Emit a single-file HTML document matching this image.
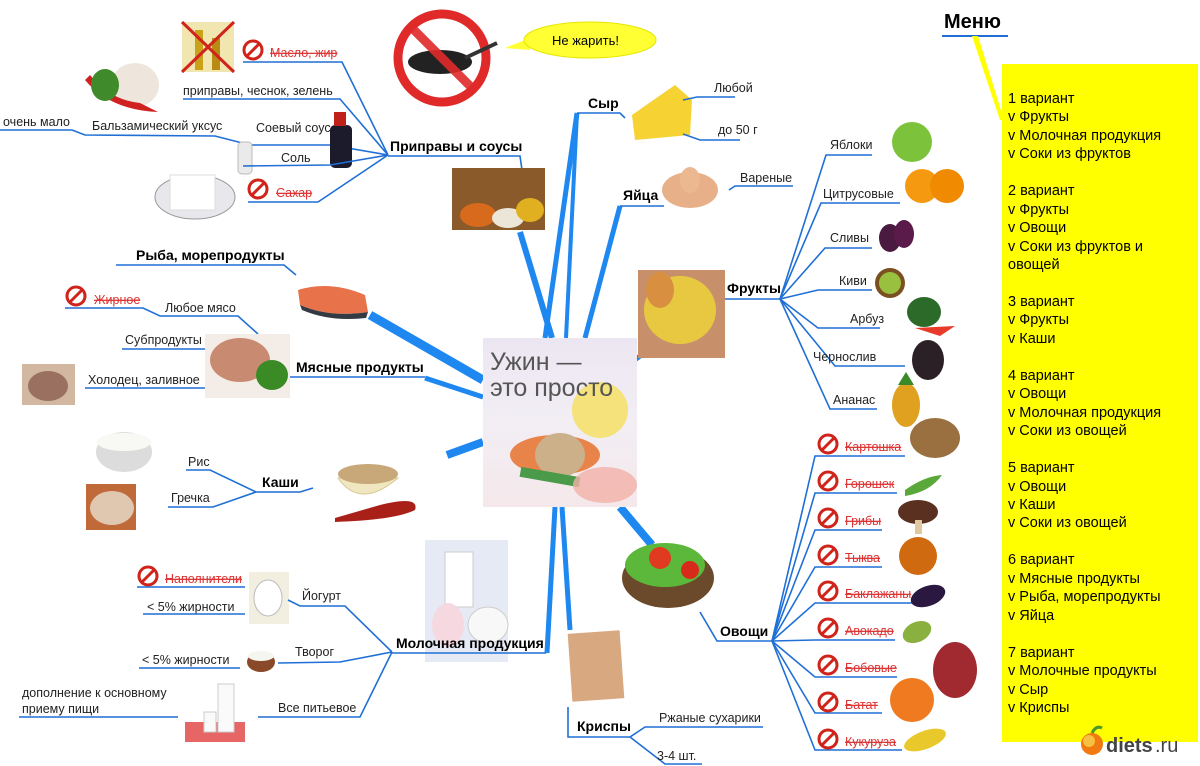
<!DOCTYPE html>
<html><head><meta charset="utf-8"><style>
html,body{margin:0;padding:0;background:#fff;width:1200px;height:766px;overflow:hidden}
svg{display:block;font-family:"Liberation Sans","DejaVu Sans",sans-serif}
.t{font-size:12.5px;fill:#222}
.b{font-size:14px;font-weight:bold;fill:#000}
.r{font-size:12.5px;fill:#d33;text-decoration:line-through}
.ln{stroke:#1f6fd6;stroke-width:1.6;fill:none}
.tk{stroke:#1e88f0;fill:none;stroke-linecap:butt}
#menu{position:absolute;left:1002px;top:64px;width:196px;height:678px;background:#ffff00}
#mt{position:absolute;left:1008px;top:90px;font:14.5px/18.45px "Liberation Sans",sans-serif;color:#000;white-space:pre}
</style></head><body>
<svg width="1200" height="766" viewBox="0 0 1200 766" style="position:absolute;left:0;top:0">
<defs>
<g id="no"><circle r="9" fill="none" stroke="#d0231a" stroke-width="3"/><line x1="-6" y1="6" x2="6" y2="-6" stroke="#d0231a" stroke-width="3"/></g>
</defs>
<g class="tk">
<line x1="577" y1="113" x2="545" y2="338" stroke-width="5"/>
<line x1="577" y1="113" x2="566" y2="338" stroke-width="4"/>
<line x1="520" y1="232" x2="552" y2="338" stroke-width="6"/>
<line x1="620" y1="206" x2="585" y2="338" stroke-width="5"/>
<line x1="640" y1="356" x2="632" y2="362" stroke-width="5"/>
<line x1="370" y1="315" x2="483" y2="380" stroke-width="9"/>
<line x1="425" y1="378" x2="483" y2="397" stroke-width="5"/>
<line x1="447" y1="455" x2="483" y2="442" stroke-width="8"/>
<line x1="555" y1="507" x2="547" y2="653" stroke-width="5"/>
<line x1="562" y1="507" x2="570" y2="630" stroke-width="5"/>
<line x1="620" y1="507" x2="652" y2="545" stroke-width="8"/>
</g>
<circle cx="442" cy="58" r="44" fill="#fff" stroke="#e02a2a" stroke-width="9"/>
<ellipse cx="440" cy="62" rx="32" ry="12" fill="#222"/>
<line x1="465" y1="58" x2="497" y2="43" stroke="#333" stroke-width="4"/>
<line x1="411" y1="27" x2="473" y2="89" stroke="#e02a2a" stroke-width="9" opacity=".9"/>
<path d="M505,48 L530,38 L530,50 Z" fill="#ffff33"/>
<ellipse cx="590" cy="40" rx="66" ry="18" fill="#ffff33" stroke="#e6e600"/>
<text x="552" y="45" class="t" style="font-size:13px;fill:#000">Не жарить!</text>
<rect x="182" y="22" width="52" height="50" fill="#f2e6b0"/><rect x="195" y="30" width="8" height="40" fill="#c9a21a"/><rect x="212" y="38" width="8" height="32" fill="#b88c12"/>
<line x1="182" y1="22" x2="234" y2="72" stroke="#d0231a" stroke-width="3"/><line x1="234" y1="22" x2="182" y2="72" stroke="#d0231a" stroke-width="3"/>
<ellipse cx="135" cy="85" rx="24" ry="22" fill="#eee6dc"/><path d="M85,80 Q110,110 158,112 L140,103 Q110,100 90,75Z" fill="#d02020"/><ellipse cx="105" cy="85" rx="14" ry="16" fill="#3f8a2a"/>
<use href="#no" x="253" y="50"/><text x="270" y="57" class="r">Масло, жир</text>
<path class="ln" d="M243,62 L342,62 L388,155"/>
<text x="183" y="95" class="t">приправы, чеснок, зелень</text><path class="ln" d="M183,99 L340,99 L388,155"/>
<text x="3" y="126" class="t">очень мало</text><path class="ln" d="M0,130 L72,130 L85,135 L215,136 L250,145 L330,145 L388,155"/>
<text x="92" y="130" class="t">Бальзамический уксус</text>
<text x="256" y="132" class="t">Соевый соус</text>
<rect x="330" y="125" width="22" height="43" rx="5" fill="#1b1b2b"/><rect x="334" y="112" width="12" height="14" fill="#c0201a"/>
<rect x="238" y="142" width="14" height="32" rx="4" fill="#eaeaea" stroke="#bbb"/>
<text x="281" y="162" class="t">Соль</text><path class="ln" d="M243,166 L330,165 L388,155"/>
<ellipse cx="195" cy="197" rx="40" ry="22" fill="#e8e8ec" stroke="#999"/><rect x="170" y="175" width="45" height="35" fill="#fff" stroke="#ddd"/>
<use href="#no" x="258" y="189"/><text x="276" y="197" class="r">Сахар</text>
<path class="ln" d="M248,202 L318,202 L388,155"/>
<text x="390" y="151" class="b">Приправы и соусы</text><path class="ln" d="M388,156 L520,156 L522,170"/>
<rect x="452" y="168" width="93" height="62" fill="#8a5a2a"/><ellipse cx="478" cy="215" rx="18" ry="12" fill="#d86a1e"/><ellipse cx="508" cy="218" rx="16" ry="10" fill="#ece6d8"/><ellipse cx="530" cy="210" rx="14" ry="12" fill="#e0b020"/>
<text x="136" y="260" class="b">Рыба, морепродукты</text><path class="ln" d="M116,265 L284,265 L296,275"/>
<path d="M298,290 Q330,280 365,295 L368,312 Q330,318 300,305Z" fill="#e8724a"/><path d="M300,305 Q330,318 368,312 L366,318 Q330,322 302,310Z" fill="#333a44"/>
<use href="#no" x="76" y="296"/><text x="94" y="304" class="r">Жирное</text>
<path class="ln" d="M65,308 L143,308 L160,316 L238,316 L258,334"/><text x="165" y="312" class="t">Любое мясо</text>
<text x="125" y="344" class="t">Субпродукты</text><path class="ln" d="M122,349 L205,349"/>
<rect x="205" y="334" width="85" height="64" fill="#f4ece6"/><ellipse cx="240" cy="360" rx="30" ry="22" fill="#c98a72"/><ellipse cx="272" cy="375" rx="16" ry="15" fill="#3a8a26"/>
<rect x="22" y="364" width="53" height="41" fill="#d2b8a0"/><ellipse cx="48" cy="386" rx="20" ry="15" fill="#9a7060"/>
<text x="88" y="384" class="t">Холодец, заливное</text><path class="ln" d="M85,388 L205,388"/>
<text x="296" y="372" class="b">Мясные продукты</text><path class="ln" d="M290,377 L425,377"/>
<ellipse cx="124" cy="452" rx="28" ry="20" fill="#dcdcdc"/><ellipse cx="124" cy="442" rx="27" ry="9" fill="#f8f8f4"/>
<rect x="86" y="484" width="50" height="46" fill="#c06a3a"/><ellipse cx="112" cy="508" rx="22" ry="17" fill="#e0c8b0"/>
<text x="188" y="466" class="t">Рис</text><path class="ln" d="M186,470 L210,470 L256,492"/>
<text x="171" y="502" class="t">Гречка</text><path class="ln" d="M168,507 L213,507 L256,492"/>
<text x="262" y="487" class="b">Каши</text><path class="ln" d="M256,492 L300,492 L313,488"/>
<path d="M338,478 Q360,510 398,478Z" fill="#f0e6c0" stroke="#d8c890"/><ellipse cx="368" cy="474" rx="30" ry="10" fill="#c8a878"/>
<path d="M335,518 L380,505 Q420,495 415,510 Q395,520 335,522Z" fill="#a82018"/>
<rect x="425" y="540" width="83" height="122" fill="#e6eaf4"/><rect x="445" y="552" width="28" height="55" fill="#fff" stroke="#ccc"/><ellipse cx="448" cy="625" rx="16" ry="22" fill="#f6d8e0"/><ellipse cx="488" cy="625" rx="20" ry="18" fill="#f8f8f8" stroke="#ccc"/>
<use href="#no" x="148" y="576"/><text x="165" y="583" class="r">Наполнители</text><path class="ln" d="M137,587 L245,587"/>
<rect x="249" y="572" width="40" height="52" fill="#f2efe0"/><ellipse cx="268" cy="598" rx="14" ry="18" fill="#fff" stroke="#bbb"/>
<text x="147" y="611" class="t">&lt; 5% жирности</text><path class="ln" d="M143,614 L245,614"/>
<path class="ln" d="M288,600 L300,606 L345,606 L392,652"/><text x="302" y="600" class="t">Йогурт</text>
<text x="142" y="664" class="t">&lt; 5% жирности</text><path class="ln" d="M139,668 L240,668"/>
<ellipse cx="261" cy="662" rx="14" ry="10" fill="#8a4a2a"/><ellipse cx="261" cy="656" rx="13" ry="5" fill="#f6f6f0"/>
<text x="295" y="656" class="t">Творог</text><path class="ln" d="M278,663 L340,662 L392,652"/>
<text x="22" y="697" class="t">дополнение к основному</text><text x="22" y="713" class="t">приему пищи</text><path class="ln" d="M19,717 L178,717"/>
<rect x="185" y="722" width="60" height="20" fill="#e04040" opacity=".8"/><rect x="218" y="684" width="16" height="48" fill="#fafafa" stroke="#ccc"/><rect x="204" y="712" width="12" height="20" fill="#fafafa" stroke="#ccc"/>
<text x="278" y="712" class="t">Все питьевое</text><path class="ln" d="M258,717 L360,717 L392,652"/>
<text x="396" y="648" class="b">Молочная продукция</text><path class="ln" d="M392,653 L546,653"/>
<rect x="570" y="632" width="52" height="68" fill="#d8a880" transform="rotate(-4 596 666)"/>
<text x="577" y="731" class="b">Криспы</text><path class="ln" d="M568,707 L568,737 L630,737 L645,727 L763,727"/>
<text x="659" y="722" class="t">Ржаные сухарики</text>
<path class="ln" d="M630,737 L665,764 L702,764"/><text x="657" y="760" class="t">3-4 шт.</text>
<text x="588" y="108" class="b">Сыр</text><path class="ln" d="M577,113 L620,113 L625,118"/>
<path d="M632,115 L675,85 L692,100 L690,135 L635,140Z" fill="#f6d232"/>
<text x="714" y="92" class="t">Любой</text><path class="ln" d="M683,100 L697,97 L735,97"/>
<text x="718" y="134" class="t">до 50 г</text><path class="ln" d="M683,134 L700,140 L740,140"/>
<text x="623" y="200" class="b">Яйца</text><path class="ln" d="M620,206 L664,206"/>
<ellipse cx="690" cy="190" rx="28" ry="18" fill="#e8b088"/><ellipse cx="690" cy="180" rx="10" ry="13" fill="#ecb890"/>
<text x="740" y="182" class="t">Вареные</text><path class="ln" d="M729,190 L735,186 L793,186"/>
<!-- Фрукты -->
<rect x="638" y="270" width="87" height="88" fill="#c8906a"/><ellipse cx="680" cy="310" rx="36" ry="34" fill="#e8c840"/><ellipse cx="660" cy="290" rx="14" ry="18" fill="#d89040"/>
<text x="727" y="293" class="b">Фрукты</text><path class="ln" d="M725,299 L780,299"/>
<g class="ln">
<path d="M780,299 L826,155 L872,155"/>
<path d="M780,299 L821,203 L900,203"/>
<path d="M780,299 L825,248 L872,248"/>
<path d="M780,299 L818,290 L872,290"/>
<path d="M780,299 L818,328 L880,328"/>
<path d="M780,299 L835,366 L905,366"/>
<path d="M780,299 L830,409 L877,409"/>
</g>
<text x="830" y="149" class="t">Яблоки</text>
<text x="823" y="198" class="t">Цитрусовые</text>
<text x="830" y="242" class="t">Сливы</text>
<text x="839" y="285" class="t">Киви</text>
<text x="850" y="323" class="t">Арбуз</text>
<text x="813" y="361" class="t">Чернослив</text>
<text x="833" y="404" class="t">Ананас</text>
<circle cx="912" cy="142" r="20" fill="#7cc23a"/>
<circle cx="922" cy="186" r="17" fill="#f59a10"/><circle cx="947" cy="186" r="17" fill="#f08a00"/>
<ellipse cx="890" cy="238" rx="11" ry="14" fill="#4a1a40"/><ellipse cx="904" cy="234" rx="10" ry="14" fill="#5a1a4a"/>
<circle cx="890" cy="283" r="15" fill="#7a5020"/><circle cx="890" cy="283" r="11" fill="#9ac040"/>
<ellipse cx="924" cy="312" rx="17" ry="15" fill="#2c6a2a"/><path d="M915,328 L955,326 L940,336Z" fill="#e83a2a"/>
<ellipse cx="928" cy="360" rx="16" ry="20" fill="#2a2026"/>
<ellipse cx="906" cy="405" rx="14" ry="22" fill="#e0a020"/><path d="M898,385 L906,372 L914,385Z" fill="#3a8a2a"/>
<ellipse cx="935" cy="438" rx="25" ry="20" fill="#9a7040"/>
<!-- Овощи -->
<ellipse cx="668" cy="578" rx="46" ry="30" fill="#6a4a2a"/><ellipse cx="665" cy="565" rx="40" ry="22" fill="#5cb83a"/><circle cx="660" cy="558" r="11" fill="#e03a20"/><circle cx="690" cy="570" r="9" fill="#d82a1a"/>
<text x="720" y="636" class="b">Овощи</text><path class="ln" d="M700,612 L717,641 L772,641"/>
<g class="ln">
<path d="M772,641 L815,456 L905,456"/>
<path d="M772,641 L815,493 L897,493"/>
<path d="M772,641 L815,530 L882,530"/>
<path d="M772,641 L815,567 L882,567"/>
<path d="M772,641 L815,603 L912,603"/>
<path d="M772,641 L815,640 L895,640"/>
<path d="M772,641 L815,677 L897,677"/>
<path d="M772,641 L815,713 L882,713"/>
<path d="M772,641 L815,750 L902,750"/>
</g>
<use href="#no" x="828" y="444"/><text x="845" y="451" class="r">Картошка</text>
<use href="#no" x="828" y="481"/><text x="845" y="488" class="r">Горошек</text>
<use href="#no" x="828" y="518"/><text x="845" y="525" class="r">Грибы</text>
<use href="#no" x="828" y="555"/><text x="845" y="562" class="r">Тыква</text>
<use href="#no" x="828" y="591"/><text x="845" y="598" class="r">Баклажаны</text>
<use href="#no" x="828" y="628"/><text x="845" y="635" class="r">Авокадо</text>
<use href="#no" x="828" y="665"/><text x="845" y="672" class="r">Бобовые</text>
<use href="#no" x="828" y="702"/><text x="845" y="709" class="r">Батат</text>
<use href="#no" x="828" y="739"/><text x="845" y="746" class="r">Кукуруза</text>
<path d="M905,490 Q925,476 942,475 Q930,492 905,496Z" fill="#5aa83a"/>
<ellipse cx="918" cy="512" rx="20" ry="12" fill="#5a3020"/><rect x="915" y="520" width="7" height="14" fill="#e0c8a0"/>
<circle cx="918" cy="556" r="19" fill="#d06a10"/>
<ellipse cx="928" cy="596" rx="18" ry="10" fill="#2a1840" transform="rotate(-20 928 596)"/>
<ellipse cx="917" cy="632" rx="15" ry="10" fill="#8ab040" transform="rotate(-25 917 632)"/>
<ellipse cx="955" cy="670" rx="22" ry="28" fill="#a02a30"/>
<ellipse cx="912" cy="700" rx="22" ry="22" fill="#f07a20"/>
<ellipse cx="925" cy="740" rx="22" ry="9" fill="#e8c82a" transform="rotate(-20 925 740)"/>
<defs><linearGradient id="bk" x1="0" y1="0" x2="0" y2="1"><stop offset="0" stop-color="#ece6f2"/><stop offset="0.5" stop-color="#f2eef4"/><stop offset="1" stop-color="#f4e8ea"/></linearGradient></defs>
<rect x="483" y="338" width="154" height="169" fill="url(#bk)"/>
<circle cx="600" cy="410" r="28" fill="#f6e27a"/>
<ellipse cx="555" cy="455" rx="45" ry="20" fill="#e8844a"/>
<ellipse cx="560" cy="455" rx="25" ry="22" fill="#cbb08a"/>
<rect x="520" y="472" width="60" height="10" fill="#4a9a4a" transform="rotate(10 550 477)"/>
<ellipse cx="605" cy="485" rx="32" ry="18" fill="#f2b0a8" opacity=".8"/>
<text x="490" y="370" style="font-size:25px;fill:#555">Ужин —</text>
<text x="490" y="396" style="font-size:25px;fill:#555">это просто</text>
<text x="944" y="28" style="font-size:20px;font-weight:bold;fill:#000">Меню</text>
<line x1="942" y1="36" x2="1008" y2="36" stroke="#1f6fd6" stroke-width="2"/>
</svg>
<div id="menu"></div>
<svg width="1200" height="766" style="position:absolute;left:0;top:0;pointer-events:none">
<path d="M972,36 L1000,120 L1004,120 L978,36Z" fill="#ffff00"/>
<circle cx="1092" cy="744" r="11" fill="#f07a10"/><circle cx="1089" cy="741" r="6" fill="#f6c040"/><path d="M1092,733 Q1096,725 1102,728" stroke="#4a9a2a" stroke-width="3" fill="none"/>
<text x="1106" y="752" style="font-family:'Liberation Sans',sans-serif;font-size:20px;fill:#444;font-weight:bold">diets</text>
<text x="1155" y="752" style="font-family:'Liberation Sans',sans-serif;font-size:20px;fill:#444">.ru</text>
</svg>
<div id="mt">1 вариант
v Фрукты
v Молочная продукция
v Соки из фруктов

2 вариант
v Фрукты
v Овощи
v Соки из фруктов и
овощей

3 вариант
v Фрукты
v Каши

4 вариант
v Овощи
v Молочная продукция
v Соки из овощей

5 вариант
v Овощи
v Каши
v Соки из овощей

6 вариант
v Мясные продукты
v Рыба, морепродукты
v Яйца

7 вариант
v Молочные продукты
v Сыр
v Криспы</div>
</body></html>
